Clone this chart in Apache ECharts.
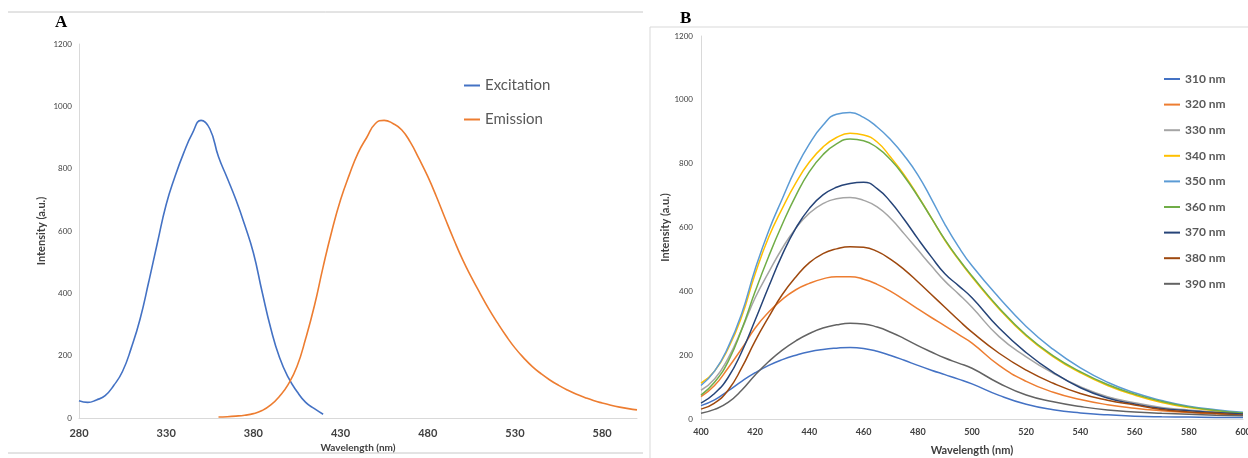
<!DOCTYPE html>
<html>
<head>
<meta charset="utf-8">
<title>Excitation / Emission spectra</title>
<script src="https://cdn.jsdelivr.net/npm/echarts@6/dist/echarts.min.js"></script>
<style>
  html, body { margin: 0; padding: 0; background: #fff; }
  #chart { width: 1248px; height: 458px; }
</style>
</head>
<body>
<div id="chart"></div>
<script>
// panel A: excitation / emission
const excWavelength = [280,285,290,295,300,305,310,315,320,325,330,335,340,345,350,355,360,365,370,375,380,385,390,395,400,405,410,415,420];
const excIntensity = [55,50,58,72,105,150,225,317,437,563,685,774,850,913,955,928,838,770,700,620,530,405,287,194,130,85,50,30,12];

const emWavelength = [360,365,370,375,380,385,390,395,400,405,410,415,420,425,430,435,440,445,450,455,460,465,470,475,480,485,490,495,500,505,510,515,520,525,530,535,540,545,550,555,560,565,570,575,580,585,590,595,600];
const emIntensity = [3,4,6,9,14,24,42,70,108,165,255,360,485,600,700,780,850,900,945,955,945,925,885,832,775,710,640,572,508,452,400,350,305,263,225,193,165,142,122,105,90,77,66,56,48,41,35,30,26];

// panel B: emission at different excitation wavelengths
const bWavelength = [400,405,410,415,420,425,430,435,440,445,450,455,460,465,470,475,480,485,490,495,500,510,520,530,540,550,560,570,580,590,600];
const exNames = ['310 nm','320 nm','330 nm','340 nm','350 nm','360 nm','370 nm','380 nm','390 nm'];
const ex310 = [42,60,88,118,145,168,186,200,211,218,222,224,221,212,199,184,168,153,139,125,110,74,46,29,19,13,9,7,6,5,5];
const ex320 = [70,105,160,220,285,335,375,405,425,439,446,446,438,422,400,373,345,318,292,265,238,168,118,84,61,45,34,26,20,16,12];
const ex330 = [90,125,190,280,380,460,535,598,645,675,690,694,685,665,628,580,530,480,432,392,350,258,195,143,101,70,51,36,28,22,18];
const ex340 = [112,150,220,320,455,570,660,740,805,852,882,895,890,868,820,765,700,630,560,500,445,345,260,195,145,105,75,52,36,26,18];
const ex350 = [105,150,225,330,470,590,690,785,862,920,955,960,945,915,875,825,765,690,610,540,480,380,290,218,160,115,82,58,40,29,21];
const ex360 = [75,115,180,280,400,510,610,700,775,828,862,877,872,850,812,760,698,630,562,502,448,348,263,198,148,108,78,55,38,27,19];
const ex370 = [50,80,130,210,310,415,515,598,660,702,726,738,742,722,680,625,565,508,455,418,380,285,208,146,98,66,47,33,26,20,16];
const ex380 = [31,50,90,160,245,320,390,445,490,518,533,540,538,525,500,468,430,390,350,310,272,206,153,112,80,59,44,30,22,18,12];
const ex390 = [18,30,52,90,138,180,216,245,268,285,295,300,298,288,272,252,230,210,191,175,159,112,75,54,39,28,22,18,15,12,10];
const exValues = [ex310, ex320, ex330, ex340, ex350, ex360, ex370, ex380, ex390];

const exColors = ['#4472C4','#ED7D31','#A5A5A5','#FFC000','#5B9BD5','#70AD47','#264478','#9E480E','#636363'];
const font = 'Lato, "Open Sans", sans-serif';

function pairs(xs, ys) {
  return xs.map((x, i) => [x, ys[i]]);
}

const chart = echarts.init(document.getElementById('chart'));

const seriesB = exNames.map((name, k) => ({
  name: name,
  type: 'line',
  xAxisIndex: 1,
  yAxisIndex: 1,
  smooth: true,
  symbol: 'none',
  data: pairs(bWavelength, exValues[k]),
  lineStyle: { width: 1.5, color: exColors[k] },
  itemStyle: { color: exColors[k] }
}));

chart.setOption({
  animation: false,
  textStyle: { fontFamily: font },
  grid: [
    { left: 79, right: 611, top: 44, bottom: 40, outerBoundsMode: 'none' },
    { left: 701, right: 5, top: 36, bottom: 39, outerBoundsMode: 'none' }
  ],
  xAxis: [
    {
      type: 'value', gridIndex: 0, min: 280, max: 600, interval: 50,
      name: 'Wavelength (nm)', nameLocation: 'middle', nameGap: 25, nameMoveOverlap: false,
      nameTextStyle: { fontSize: 10, fontWeight: 'bold', color: '#404040' },
      axisLine: { lineStyle: { color: '#D9D9D9' } },
      axisTick: { show: false },
      splitLine: { show: false },
      axisLabel: { fontSize: 11, fontWeight: 'bold', color: '#404040', margin: 10, showMaxLabel: false }
    },
    {
      type: 'value', gridIndex: 1, min: 400, max: 600, interval: 20,
      name: 'Wavelength (nm)', nameLocation: 'middle', nameGap: 26, nameMoveOverlap: false,
      nameTextStyle: { fontSize: 11, fontWeight: 'bold', color: '#404040' },
      axisLine: { lineStyle: { color: '#D9D9D9' } },
      axisTick: { show: false },
      splitLine: { show: false },
      axisLabel: { fontSize: 9, fontWeight: 'bold', color: '#404040', margin: 9 }
    }
  ],
  yAxis: [
    {
      type: 'value', gridIndex: 0, min: 0, max: 1200, interval: 200,
      name: 'Intensity (a.u.)', nameLocation: 'middle', nameGap: 32, nameRotate: 90,
      nameTextStyle: { fontSize: 11, fontWeight: 'bold', color: '#404040' },
      axisLine: { show: true, lineStyle: { color: '#D9D9D9' } },
      axisTick: { show: false },
      splitLine: { show: false },
      axisLabel: { fontSize: 8, color: '#404040', margin: 7, formatter: v => String(v) }
    },
    {
      type: 'value', gridIndex: 1, min: 0, max: 1200, interval: 200,
      name: 'Intensity (a.u.)', nameLocation: 'middle', nameGap: 26, nameRotate: 90,
      nameTextStyle: { fontSize: 11, fontWeight: 'bold', color: '#404040' },
      axisLine: { show: true, lineStyle: { color: '#D9D9D9' } },
      axisTick: { show: false },
      splitLine: { show: false },
      axisLabel: { fontSize: 8, color: '#404040', margin: 8, formatter: v => String(v) }
    }
  ],
  legend: [
    {
      data: ['Excitation', 'Emission'],
      orient: 'vertical', left: 459, top: 73,
      icon: 'rect', itemWidth: 16, itemHeight: 2, itemGap: 19,
      textStyle: { fontSize: 15, lineHeight: 15, color: '#595959', fontFamily: font }
    },
    {
      data: exNames,
      orient: 'vertical', left: 1159, top: 68,
      icon: 'rect', itemWidth: 16, itemHeight: 2, itemGap: 13.6,
      textStyle: { fontSize: 12, lineHeight: 12, fontWeight: 'bold', color: '#595959', fontFamily: font }
    }
  ],
  graphic: [
    { type: 'line', shape: { x1: 8, y1: 12, x2: 643, y2: 12 }, style: { stroke: '#C8C8C8', lineWidth: 1 } },
    { type: 'line', shape: { x1: 8, y1: 453, x2: 643, y2: 453 }, style: { stroke: '#C8C8C8', lineWidth: 1 } },
    { type: 'line', shape: { x1: 650, y1: 27, x2: 1248, y2: 27 }, style: { stroke: '#D9D9D9', lineWidth: 1 } },
    { type: 'line', shape: { x1: 650, y1: 27, x2: 650, y2: 458 }, style: { stroke: '#D9D9D9', lineWidth: 1 } },
    { type: 'text', left: 55, top: 14, style: { text: 'A', font: 'bold 17px "Liberation Serif", serif', fill: '#000' } },
    { type: 'text', left: 680, top: 10, style: { text: 'B', font: 'bold 17px "Liberation Serif", serif', fill: '#000' } }
  ],
  series: [
    {
      name: 'Excitation', type: 'line', xAxisIndex: 0, yAxisIndex: 0,
      smooth: true, symbol: 'none',
      data: pairs(excWavelength, excIntensity),
      lineStyle: { width: 1.6, color: '#4472C4' }, itemStyle: { color: '#4472C4' }
    },
    {
      name: 'Emission', type: 'line', xAxisIndex: 0, yAxisIndex: 0,
      smooth: true, symbol: 'none',
      data: pairs(emWavelength, emIntensity),
      lineStyle: { width: 1.6, color: '#ED7D31' }, itemStyle: { color: '#ED7D31' }
    }
  ].concat(seriesB)
});
</script>
</body>
</html>
